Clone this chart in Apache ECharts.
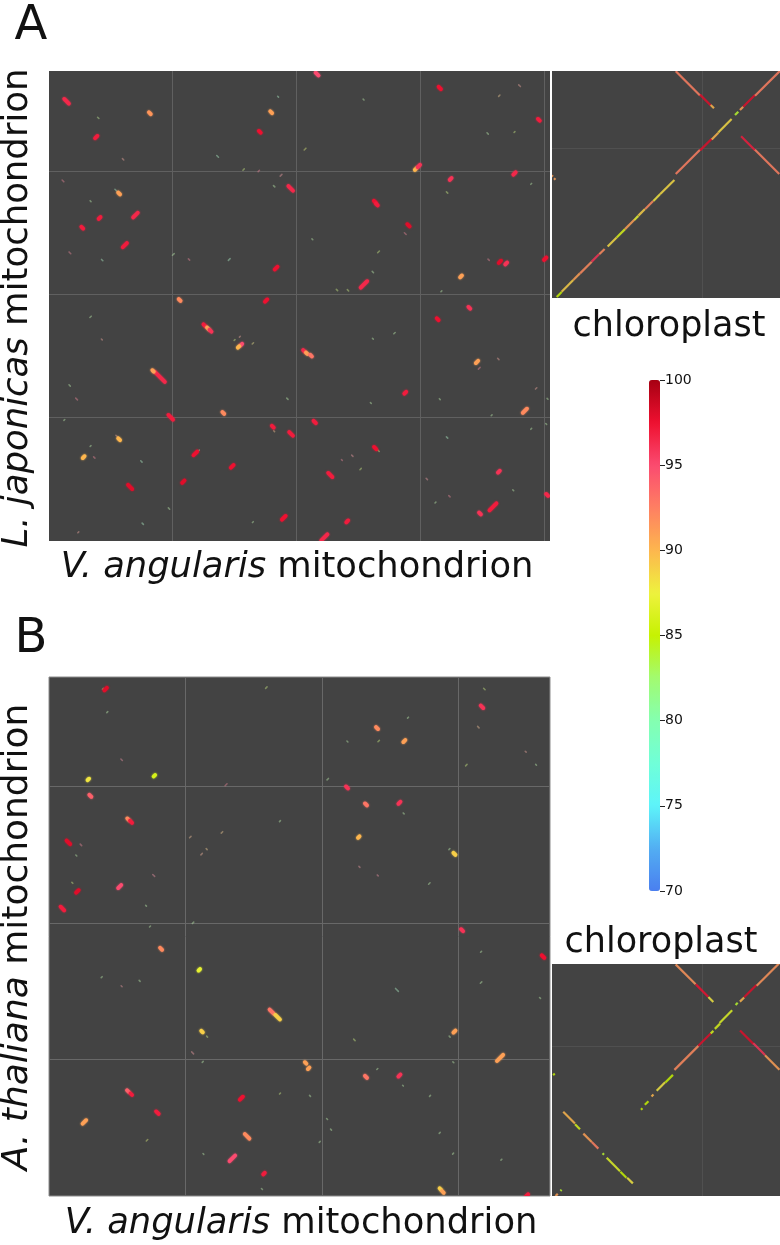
<!DOCTYPE html>
<html>
<head>
<meta charset="utf-8">
<title>Mitochondrion and chloroplast dot plots</title>
<script src="https://cdn.jsdelivr.net/npm/echarts@6/dist/echarts.min.js"></script>
<style>
  html, body { margin: 0; padding: 0; background: #fff; }
  #chart { width: 780px; height: 1245px; }
</style>
</head>
<body>
<div id="chart"></div>
<script>
// every hit: [x mid kb, y mid kb, span kb, strand, identity %]
const mainAHits = [
  [14.2,356.5,5,-1,96.5],[81.5,346.8,2,-1,91.5],[38.2,327.4,2.5,1,97],[179.6,347.6,2,-1,91],[170.4,331.7,2,-1,97.5],
  [195.4,285.8,5,-1,96.5],[56.7,281.7,2,-1,91],[69.9,264.2,5,1,96.5],[40.9,261.8,2,1,97],[26.9,254,2,-1,97],
  [61.3,239.8,4.5,1,97],[183.6,221.2,3,1,97.5],[105.6,195.4,2,-1,92],[175.5,194.9,2.5,1,97.5],
  [216.7,378.5,3,-1,95],[315.9,367.2,2.5,-1,97.5],[396,341.4,2,-1,97],[296.5,301.6,2,1,90],[299,304,2.5,1,96],
  [376.3,297.9,2.5,1,96.5],[324.7,293.5,2,1,96],[263.4,275,2,-1,97.5],[265,272.8,2,-1,97],[290.6,255.9,2.5,-1,98],
  [254.6,208,7,1,96.5],[333.1,214.5,2,1,91],[364.5,226.3,2.5,1,98],[369.6,225,2,1,96],[401.1,228.8,2.5,1,97.5],
  [125.8,174.7,2.5,-1,97],[128.5,172.3,2,-1,91],[130.6,170.4,2,-1,96],[155.4,159.1,2,1,95],[153.2,157.3,1.5,1,90],
  [89.5,133.1,11,-1,96.5],[84.1,137.9,1.5,-1,91],[140.9,103.8,2,-1,92],[98.4,100.3,5,-1,97],[180.9,92.7,2,-1,97],
  [195.7,86.8,4,-1,97],[56.7,82.5,2,-1,90],[28,68,2,1,90],[118.3,71,4,1,97.5],[148.1,60.5,3,1,97.5],
  [108.6,48.1,2.5,1,98],[65.6,43.8,4.5,-1,98],[189.8,18.8,4,1,97.5],
  [339.8,189,2,-1,96],[314.2,179.8,2,-1,97.5],[206.2,154,2,-1,96.5],[208.3,152.2,1.5,-1,91],[211.8,150.3,2,-1,93],
  [346,145.2,2.5,1,91],[288,120.2,2,1,97],[384.7,105.6,4.5,1,92],[214.8,96.5,2.5,-1,97],[263.7,75.3,2.5,-1,97.5],
  [227.4,53.5,4.5,-1,97],[241.1,15.9,2,1,97],[222.6,3,6.5,1,96.5],[363.7,56.2,2,1,96],[358.9,27.7,7.5,1,97],
  [348.4,22.3,2,-1,96],[402.7,37.4,2,-1,96.5]
]
const mainAFaint = [
  [39.8,343,1.5,-1,83],[59.9,309.4,1.5,-1,93],[136.3,311.8,2,-1,80],[185.2,360.2,1,-1,80],[157.3,301.1,1.5,1,84],
  [169.6,300,1.5,1,96],[187.6,296.5,2,1,94],[182,287.6,1.5,-1,82],[11.3,291.9,2,-1,96],[54,284.4,2,-1,80],
  [33.6,275.5,1,-1,82],[16.9,233.6,2,-1,96],[43,227.7,1.5,-1,80],[100.5,232.3,2,1,82],[113.2,228.2,1.5,-1,96],
  [145.7,228.2,2,1,80],[380.4,369.1,2,-1,93],[364,361,1.5,1,90],[254.3,357.8,1,-1,82],[354.6,330.4,1.5,-1,82],
  [376.3,331.5,1,1,84],[207,317.7,2,1,86],[321.8,282.5,1.5,-1,84],[389.8,289.5,1,1,82],[288,249.2,2,-1,96],
  [212.9,244.6,1,-1,82],[266.4,234.4,2,1,84],[261.8,218,1.5,-1,82],[232.8,203.5,1.5,-1,84],[241.7,203.2,1.5,-1,84],
  [317.2,202.4,1,1,82],[355.4,228,1.5,-1,96],[33.6,181.7,1.5,1,82],[42.7,163.4,1,-1,93],[150,162.9,1,1,84],
  [154.3,165.6,1,1,93],[164.8,160.2,1.5,1,88],[16.7,126.1,1.5,-1,82],[22.3,115.1,2,-1,96],[192.7,115.3,1.5,-1,82],
  [12.4,98.1,1,1,82],[182,89,1,-1,90],[54.6,85.2,1.5,-1,93],[33.6,77,1,1,82],[36.6,67.7,1.5,-1,96],
  [74.7,64.5,1.5,-1,80],[121.2,73.4,1,1,82],[97,26.3,1.5,-1,82],[75.8,14,1.5,-1,80],[23.7,7,1,1,93],
  [164.8,15.3,1,1,82],[279.3,168.5,1.5,1,82],[261.8,164,1,-1,82],[347.8,140,2,1,96],[363.2,147.6,1.5,-1,93],
  [393.8,123.7,1.5,1,93],[357.8,101.9,1,1,82],[315.9,115,1,-1,82],[260.2,111.8,1,-1,82],[403,115.3,1,-1,82],
  [266.4,73.1,1.5,-1,86],[245.2,69.1,1.5,-1,94],[236.8,65.6,1,-1,96],[251.9,58.3,1.5,1,84],[321.8,83.9,1.5,-1,80],
  [305.4,50.3,1.5,-1,94],[323.7,36.3,1.5,-1,96],[312.4,31.2,1,1,82],[375.3,41.1,1,-1,82],[401.9,94.9,1,-1,82],
  [389.8,90.9,1,1,82]
]
const chloroAHits = [
  [4.8,2.3,3.3,1,85],[10.3,8.1,7.8,1,89],[16.4,14.2,4.4,1,91],[22.6,20.3,7.8,1,92],[28.9,26.7,4.9,1,96],
  [33.3,30.9,3.6,1,92],[40.1,37.3,6,1,88.5],[45.9,43.1,5.6,1,86],[51.8,49,6.2,1,91],[56.2,53.4,2.7,1,87],
  [59.8,57.1,4.4,1,89],[64.8,62,5.3,1,92],[69.8,66.9,4.4,1,88],[76.8,73.9,9.6,1,88.5],[90.6,90.7,16.2,1,92.5],
  [102.6,102.3,7.8,1,98],[108.7,107.9,4.4,1,90],[115.3,114.8,8.9,1,88.5],[123.1,123.1,2.2,1,84],[126.4,126.4,2.2,1,91],
  [131.4,131.4,7.8,1,98],[143.7,143.1,16.7,1,92.5],
  [90.6,143.1,16.2,-1,92.5],[102.2,132,7.1,-1,98],[106.9,127.6,2.2,-1,90],
  [130.7,103.1,9.3,-1,97],[143.4,90.7,16.2,-1,92.5],[0.2,81.3,0.8,-1,91],[1.8,79.3,1,-1,91]
]
const mainBHits = [
  [41.5,371.2,2.5,1,98],[28.8,305,1.5,1,88],[77.2,307.7,1.5,1,86],[30.3,293,2,-1,94],[58.1,275.7,2,-1,92],
  [60.1,274,2,-1,97],[14.2,258.9,3.5,-1,98],[20.8,223,2.5,1,98],[51.8,226.6,3,1,95],[9.8,210.5,3.5,-1,97],
  [317.2,358.2,2.5,-1,96],[240.3,342.6,2,-1,92],[260.3,333.1,2,1,91],[218.3,299.1,2,-1,96],[232.2,286.7,2,-1,93],
  [256.7,287.9,2,1,96],[226.9,262.8,1.5,1,90],[297,250.5,2,-1,89],[302.6,194.6,2,-1,96],
  [82.1,181,2,-1,92],[110.1,165.6,1.5,1,87],[163.1,135,4,-1,93],[167.5,130.9,4.5,-1,89],[112.1,120.4,1.5,-1,89],
  [57.9,76.7,2,-1,94],[60.3,74.5,1.5,-1,97],[79.4,61,2.5,-1,97],[25.9,54.2,3.5,1,91],[140.9,71.6,3,1,97.5],
  [145.1,43.7,4.5,-1,92],[134.3,27.6,5.5,1,95],[157.5,16.4,1.5,1,97],
  [361.9,175.3,2.5,-1,97.5],[297,120.4,2,1,91],[188,97.4,1.5,-1,91],[190.2,93.5,1.5,1,91],[330.4,101.1,6,1,91],
  [232.2,87.2,2,-1,93],[256.7,88.2,2,1,96],[286.7,5.1,1.5,-1,89],[288.6,2.9,1.5,-1,91],[350.2,0.5,2,1,97]
]
const mainBFaint = [
  [39.5,371.4,1,1,84],[42.7,354.3,1,1,82],[53.2,319.4,1.5,-1,95],[23.4,257.1,1.5,-1,96],[20,249.3,1,-1,82],
  [17.1,229.3,1,-1,84],[76.7,234.7,2,-1,95],[71.1,212.5,0.8,-1,82],[74,197.3,1,1,82],[105.5,200,1.5,1,82],
  [129.7,301.1,2,1,96],[159.2,372.2,1.5,1,84],[169.2,274.5,1,1,82],[103.5,262.8,1.5,1,91],[126.7,266.2,1.5,1,90],
  [115.5,254,1,-1,90],[111.8,250.3,1.5,1,92],[318.9,371.2,1.5,-1,84],[314.5,343.3,1.5,-1,91],[263,350.2,1,1,82],
  [218.6,332.8,1,-1,82],[241.5,333.1,1.5,1,84],[349.2,325.3,1,-1,93],[356.8,315.7,0.8,-1,82],[305.7,315.5,1.5,1,84],
  [204.2,305.2,1.5,1,82],[259.8,280.1,1,-1,82],[293.3,254,1,1,82],[227.4,241,1,-1,94],[240.8,234.7,1,-1,95],
  [278.6,228.8,1.5,1,82],[38.6,160.2,1,1,82],[53.2,153.6,1,-1,94],[66.4,157.5,1,-1,82],[115.8,116.7,1,-1,84],
  [105.2,104.8,2,-1,94],[112.6,98.2,1,1,82],[71.8,40.8,1.5,1,86],[169.2,75,1,1,84],[156,5.1,1,-1,82],
  [113.1,30.8,0.8,-1,82],[316.5,178.8,1,1,82],[316.5,156.3,1.5,1,82],[359.7,145,1,-1,82],[254.9,150.9,3,-1,80],
  [223.7,114.3,1.5,-1,84],[293.5,116.7,1,-1,82],[296.2,97.9,1,-1,82],[240.5,93,1,1,82],[259.3,80.8,0.8,-1,82],
  [279.1,73.3,1,1,82],[191.2,73.3,1,-1,82],[203.7,56.4,1,-1,82],[206.6,48.6,1,-1,82],[198.3,39.6,1,1,82],
  [286.2,46.2,1,1,82],[296,31,1,1,82],[331.4,26.6,1,1,82]
]
const chloroBHits = [
  [89.6,92.1,16,1,92],[101.7,104.3,8.2,1,98],[106.7,109.2,1.8,1,86],[110.3,113.2,3.5,1,86],[115.9,119.6,8.4,1,86.5],
  [123.1,128.1,1.4,1,84],[126.7,131,2.8,1,90],[132.2,136.6,8.2,1,98],[143.9,147.6,14.9,1,91.5],
  [59.8,58,1,1,85],[63.1,62,2.4,1,85],[67,67,1.3,1,90],[72.6,73,5.6,1,88],[78.1,78.2,5.1,1,85],
  [89.1,147.8,13.3,-1,91.5],[100,137,8.2,-1,97.5],[105.9,131,3.3,-1,88],
  [129.8,105.9,8.9,-1,98],[138.1,97.9,7.8,-1,96],[146.8,89,9.6,-1,91],
  [11.4,52.3,7.8,-1,90],[17,46.2,3.3,-1,86],[23.7,38.8,5.6,-1,91],[28.7,33.8,4.4,-1,92.5],[34.2,28,1,-1,84],
  [40.9,21,8.9,-1,86.5],[47.6,14.2,4,-1,85],[52,10.3,3.8,-1,88],
  [3.1,0.7,1.5,1,91],[6,3.8,0.8,1,84],[1.3,81.1,1,-1,85]
]
const scaleTicks = [70, 75, 80, 85, 90, 95, 100]
// one stop per 2.5 % from 70 to 100
const identityColors = ['#4a7ff0', '#52aef2', '#5df4fa', '#70ffd8', '#84ffb0', '#a2fb70', '#c6f202', '#eef23e', '#fdb64e', '#fe7f62', '#fb4b70', '#ee1030', '#a60012']

const chart = echarts.init(document.getElementById('chart'))

function dotGrid(left, top, width, height, border) {
  return { left: left, top: top, width: width, height: height, show: true, backgroundColor: '#434343', borderWidth: border ? 1 : 0, borderColor: border || '#434343', containLabel: false }
}

function dotAxis(index, max, color) {
  return {
    type: 'value', gridIndex: index, min: 0, max: max, interval: 100,
    axisLine: { show: false }, axisTick: { show: false }, axisLabel: { show: false },
    splitLine: { show: true, showMinLine: false, showMaxLine: false, lineStyle: { color: color, width: 1 } }
  }
}

function hitSeries(name, hits, index, look) {
  return {
    name: name, type: 'custom', xAxisIndex: index, yAxisIndex: index, data: hits, clip: true,
    encode: { x: 0, y: 1 }, silent: true,
    renderItem: function (params, api) {
      const half = api.value(2) / 2 * look.shrink
      const strand = api.value(3)
      const from = api.coord([api.value(0) - half, api.value(1) - strand * half])
      const to = api.coord([api.value(0) + half, api.value(1) + strand * half])
      const color = look.pale ? echarts.color.lerp(look.pale, [api.visual('color'), '#bbbbbb']) : api.visual('color')
      return {
        type: 'line',
        shape: { x1: from[0], y1: from[1], x2: to[0], y2: to[1] },
        style: { stroke: color, lineWidth: look.width, lineCap: look.cap, opacity: look.opacity, shadowBlur: look.blur, shadowColor: color }
      }
    }
  }
}

const strong = { width: 3.8, cap: 'round', opacity: 1, blur: 2, shrink: 0.75, pale: 0 }
const faint = { width: 1.6, cap: 'round', opacity: 0.5, blur: 0, shrink: 0.7, pale: 0.55 }
const fine = { width: 2.2, cap: 'butt', opacity: 0.84, blur: 0, shrink: 1, pale: 0 }

function label(text, x, y, size, rotation) {
  return {
    type: 'text', x: x, y: y, rotation: rotation || 0, silent: true,
    style: {
      text: text, fill: '#111', fontFamily: 'DejaVu Sans', fontSize: size, align: 'center', verticalAlign: 'middle',
      rich: { i: { fontStyle: 'italic', fontFamily: 'DejaVu Sans', fontSize: size, fill: '#111' }, n: { fontFamily: 'DejaVu Sans', fontSize: size, fill: '#111' } }
    }
  }
}

chart.setOption({
  animation: false,
  backgroundColor: '#fff',
  grid: [
    dotGrid(49, 71, 501, 470),
    dotGrid(552, 71, 228, 227),
    dotGrid(49, 677, 501, 519, '#8c8c8c'),
    dotGrid(552, 964, 228, 232),
    { left: 649, top: 380, width: 11, height: 511, show: false }
  ],
  xAxis: [
    dotAxis(0, 405, '#606060'),
    dotAxis(1, 152, '#505050'),
    dotAxis(2, 367, '#686868'),
    dotAxis(3, 152, '#505050'),
    { type: 'value', gridIndex: 4, min: 0, max: 1, show: false }
  ],
  yAxis: [
    dotAxis(0, 381, '#606060'),
    dotAxis(1, 151.3, '#505050'),
    dotAxis(2, 380, '#686868'),
    dotAxis(3, 154.7, '#505050'),
    {
      type: 'value', gridIndex: 4, position: 'right', min: scaleTicks[0], max: scaleTicks[scaleTicks.length - 1], interval: 5,
      axisLine: { show: false, onZero: false },
      axisTick: { show: true, length: 5, lineStyle: { color: '#222', width: 1 } },
      axisLabel: { show: true, margin: 5, color: '#111', fontFamily: 'DejaVu Sans', fontSize: 14, showMinLabel: true, showMaxLabel: true },
      splitLine: { show: false }
    }
  ],
  visualMap: {
    type: 'continuous', min: 70, max: 100, dimension: 4, left: 649, top: 380, itemWidth: 11, itemHeight: 511,
    padding: 0, calculable: false, hoverLink: false, text: null, seriesIndex: [0, 1, 2, 3, 4, 5],
    inRange: { color: identityColors }
  },
  series: [
    hitSeries('A mito faint', mainAFaint, 0, faint),
    hitSeries('A mito', mainAHits, 0, strong),
    hitSeries('A chloroplast', chloroAHits, 1, fine),
    hitSeries('B mito faint', mainBFaint, 2, faint),
    hitSeries('B mito', mainBHits, 2, strong),
    hitSeries('B chloroplast', chloroBHits, 3, fine)
  ],
  graphic: [
    label('A', 31, 27, 48),
    label('B', 31, 640, 48),
    label('{i|V. angularis}{n| mitochondrion}', 297, 568, 35.3),
    label('{i|V. angularis}{n| mitochondrion}', 301, 1224, 35.3),
    label('{i|L. japonicas}{n| mitochondrion}', 18, 308, 35.5, Math.PI / 2),
    label('{i|A. thaliana}{n| mitochondrion}', 18, 937, 36, Math.PI / 2),
    label('{n|chloroplast}', 669, 327, 35),
    label('{n|chloroplast}', 661, 943, 35)
  ]
})
</script>
</body>
</html>
